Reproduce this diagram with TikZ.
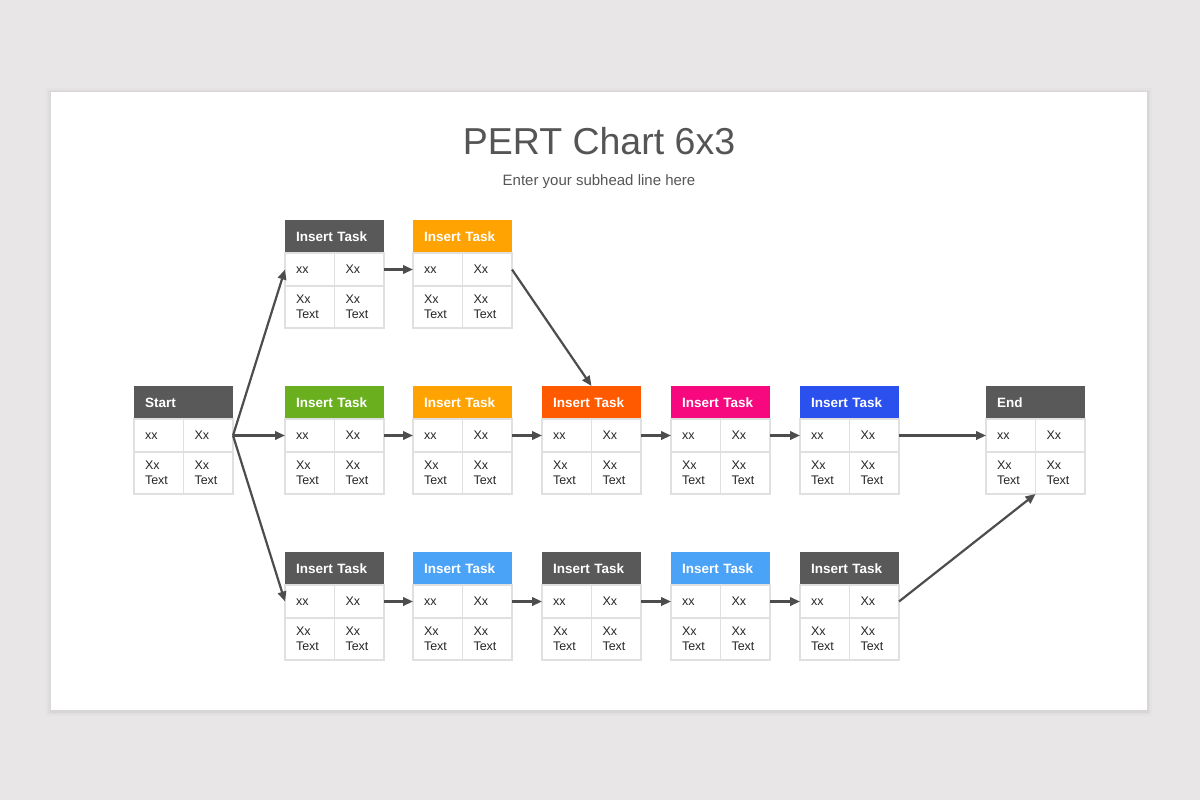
\documentclass[tikz,border=0pt]{standalone}
\usepackage{fontspec}
\setmainfont{Liberation Sans}
\usetikzlibrary{arrows.meta}
\definecolor{bgc}{HTML}{E8E6E7}
\definecolor{titlec}{HTML}{555555}
\definecolor{cellline}{HTML}{E0E0E0}
\definecolor{textc}{HTML}{262626}
\definecolor{arrowc}{HTML}{4D4D4D}
\definecolor{dgray}{HTML}{595959}
\definecolor{tgreen}{HTML}{6AAF1E}
\definecolor{torange}{HTML}{FFA303}
\definecolor{tred}{HTML}{FF5A00}
\definecolor{tmag}{HTML}{F7087F}
\definecolor{tblue}{HTML}{2A50EE}
\definecolor{tlblue}{HTML}{4BA3F8}
\tikzset{
  hdr/.style={anchor=north west, outer sep=0pt, minimum width=99pt, minimum height=33pt,
    inner xsep=11pt, inner ysep=0pt, text width=77pt, align=left, text=white,
    font=\fontsize{13.5}{15}\selectfont\bfseries},
  cell/.style={draw=cellline, line width=1.6pt, fill=white, anchor=north west, outer sep=0pt,
    minimum width=49.5pt, inner xsep=11pt, inner ysep=0pt, text width=27.5pt, align=left,
    text=textc, font=\fontsize{12.5}{15}\selectfont},
  celltop/.style={cell, minimum height=33pt},
  cellbot/.style={cell, minimum height=42pt},
  link/.style={draw=arrowc, line width=2.2pt, -{Triangle[length=10pt,width=8.5pt]}}
}
\newcommand{\pbox}[5]{%
  \node[hdr, fill=#4] (#1-h) at (#2,#3) {#5};
  \node[celltop] (#1-a) at (#2,#3+33) {\vphantom{X}xx};
  \node[celltop] (#1-b) at (#2+49.5,#3+33) {Xx};
  \node[cellbot] (#1-c) at (#2,#3+66) {Xx\\Text};
  \node[cellbot] (#1-d) at (#2+49.5,#3+66) {Xx\\Text};
}
\begin{document}
\begin{tikzpicture}[x=1pt,y=-1pt]
  \fill[bgc] (0,0) rectangle (1200,800);
  \useasboundingbox (0,0) rectangle (1200,800);
  % card shadow
  \foreach \s/\o in {5/0.015,3/0.02,1.5/0.03}{
    \fill[black,opacity=\o] (51-\s,92-\s+1) rectangle (1147+\s,710+\s+1);
  }
  \fill[white] (51,92) rectangle (1147,710);
  % titles
  \node[font=\fontsize{37.5}{44}\selectfont, text=titlec] (title) at (599,141) {PERT Chart 6x3};
  \node[font=\fontsize{15}{18}\selectfont, text=titlec] (sub) at (599,182) {Enter your subhead line here};
  % boxes
  \pbox{st}{134}{386}{dgray}{Start}
  \pbox{t1}{285}{220}{dgray}{Insert Task}
  \pbox{t2}{413}{220}{torange}{Insert Task}
  \pbox{m1}{285}{386}{tgreen}{Insert Task}
  \pbox{m2}{413}{386}{torange}{Insert Task}
  \pbox{m3}{542}{386}{tred}{Insert Task}
  \pbox{m4}{671}{386}{tmag}{Insert Task}
  \pbox{m5}{800}{386}{tblue}{Insert Task}
  \pbox{b1}{285}{552}{dgray}{Insert Task}
  \pbox{b2}{413}{552}{tlblue}{Insert Task}
  \pbox{b3}{542}{552}{dgray}{Insert Task}
  \pbox{b4}{671}{552}{tlblue}{Insert Task}
  \pbox{b5}{800}{552}{dgray}{Insert Task}
  \pbox{en}{986}{386}{dgray}{End}
  % connectors
  \draw[link] (st-b.east) -- (t1-a.west);
  \draw[link] (st-b.east) -- (m1-a.west);
  \draw[link] (st-b.east) -- (b1-a.west);
  \draw[link] (t1-b.east) -- (t2-a.west);
  \draw[link] (t2-b.east) -- (m3-h.north);
  \draw[link] (m1-b.east) -- (m2-a.west);
  \draw[link] (m2-b.east) -- (m3-a.west);
  \draw[link] (m3-b.east) -- (m4-a.west);
  \draw[link] (m4-b.east) -- (m5-a.west);
  \draw[link] (m5-b.east) -- (en-a.west);
  \draw[link] (b1-b.east) -- (b2-a.west);
  \draw[link] (b2-b.east) -- (b3-a.west);
  \draw[link] (b3-b.east) -- (b4-a.west);
  \draw[link] (b4-b.east) -- (b5-a.west);
  \draw[link] (b5-b.east) -- (en-c.south east);
\end{tikzpicture}
\end{document}
